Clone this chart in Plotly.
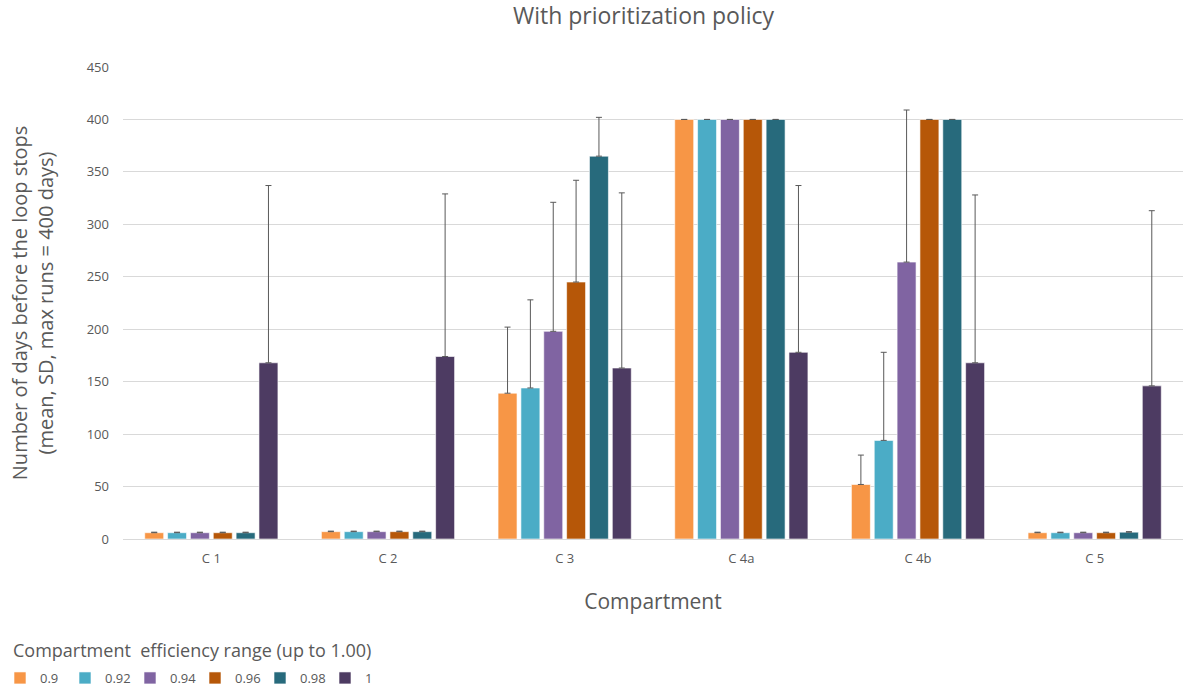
import plotly.graph_objects as go

categories = ["C 1", "C 2", "C 3", "C 4a", "C 4b", "C 5"]
series_names = ["0.9", "0.92", "0.94", "0.96", "0.98", "1"]
colors = ["#F79646", "#4BACC6", "#8064A2", "#B65708", "#276A7C", "#4D3B62"]

means = {
    "0.9":  [6, 7, 139, 400, 52, 6],
    "0.92": [6, 7, 144, 400, 94, 6],
    "0.94": [6, 7, 198, 400, 264, 6],
    "0.96": [6, 7, 245, 400, 400, 6],
    "0.98": [6, 7, 365, 400, 400, 6.5],
    "1":    [168, 174, 163, 178, 168, 146],
}
sds = {
    "0.9":  [0.5, 0.5, 63, 0, 28, 0.5],
    "0.92": [0.5, 0.5, 84, 0, 84, 0.5],
    "0.94": [0.5, 0.5, 123, 0, 145, 0.5],
    "0.96": [0.5, 0.5, 97, 0, 0, 0.5],
    "0.98": [0.5, 0.5, 37, 0, 0, 0.5],
    "1":    [169, 155, 167, 159, 160, 167],
}
legend_title = "Compartment  efficiency range (up to 1.00)"

font_family = "'Open Sans', sans-serif"
grey = "#595959"

fig = go.Figure()
for name, col in zip(series_names, colors):
    fig.add_trace(go.Bar(
        x=categories, y=means[name], name=name,
        marker=dict(color=col, line=dict(color="rgba(255,255,255,0.6)", width=1)),
        error_y=dict(type="data", array=sds[name], symmetric=False,
                     arrayminus=[0] * len(categories),
                     color=grey, thickness=1, width=3),
    ))

fig.add_annotation(text=legend_title, xref="paper", yref="paper",
                   x=(11 - 123) / 1060, y=-(650 - 539) / 472,
                   xanchor="left", yanchor="middle", showarrow=False,
                   font=dict(size=18, color=grey))

fig.update_layout(
    width=1186, height=690,
    paper_bgcolor="white", plot_bgcolor="white",
    font=dict(family=font_family, color=grey),
    title=dict(text="With prioritization policy", x=0.5426, xanchor="center",
               xref="container", y=0.977, yref="container", yanchor="middle",
               font=dict(size=23, color=grey)),
    barmode="group", bargap=0.224, bargroupgap=0.17,
    margin=dict(l=123, r=3, t=67, b=151, autoexpand=False),
    xaxis=dict(showgrid=False, showline=True, linecolor="#d9d9d9", linewidth=1,
               ticks="", tickfont=dict(size=13, color=grey), automargin=False,
               ticklabelstandoff=7,
               title=dict(text="Compartment", font=dict(size=21, color=grey), standoff=28)),
    yaxis=dict(range=[0, 450], dtick=50, showgrid=True, gridcolor="#d9d9d9",
               gridwidth=1, zeroline=False, showline=False, automargin=False,
               tickfont=dict(size=13, color=grey), ticks="", ticklabelstandoff=13,
               title=dict(text="Number of days before the loop stops<br>(mean, SD, max runs = 400 days)",
                          font=dict(size=20, color=grey), standoff=27)),
    legend=dict(orientation="h", xref="container", yref="container",
                x=0.0, y=1 - 678 / 690, xanchor="left", yanchor="middle",
                font=dict(size=13, color=grey), itemwidth=30,
                tracegroupgap=0, entrywidth=20),
    showlegend=True,
)

fig.write_html("out.html", config={"displayModeBar": False},
               post_script="document.body.style.margin='0';document.body.style.overflow='hidden';")
